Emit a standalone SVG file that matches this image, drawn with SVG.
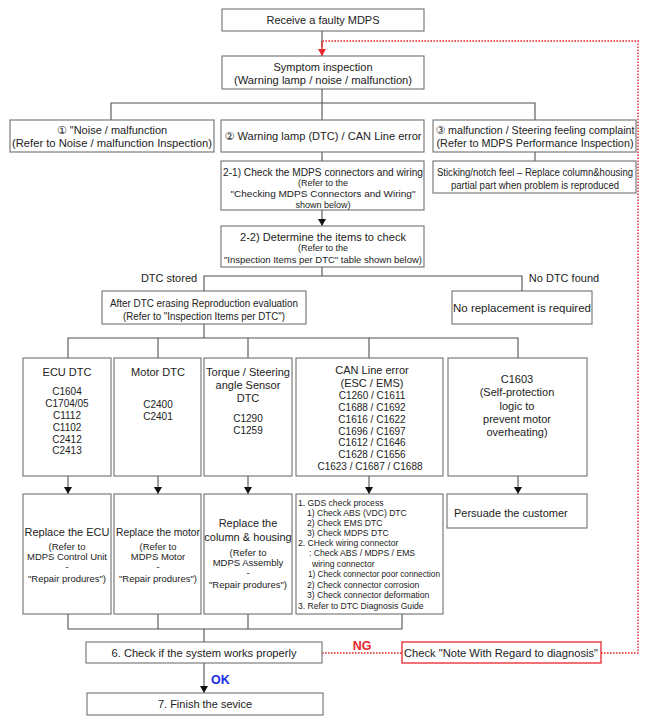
<svg xmlns="http://www.w3.org/2000/svg" width="647" height="726" viewBox="0 0 647 726">
<style>
.box{fill:#fff;stroke:#707070;stroke-width:1.1}
.rbox{fill:#fff;stroke:#e8262b;stroke-width:1.3}
.ln{stroke:#505050;stroke-width:1.1;fill:none}
.red{stroke:#e8262b;stroke-width:1.4;stroke-dasharray:1.6 1.4;fill:none}
text{font-family:"Liberation Sans","DejaVu Sans",Arial,sans-serif;fill:#222;font-size:11px}
.c{text-anchor:middle}
.s9{font-size:9px}
.s95{font-size:9.5px}
.s10{font-size:10px}
.g{font-size:8.6px}
</style>
<defs>
<marker id="ah" markerWidth="8" markerHeight="8" refX="7" refY="4" orient="auto" markerUnits="userSpaceOnUse">
<path d="M0,0 L7,4 L0,8 Z" fill="#111"/>
</marker>
<marker id="ahr" markerWidth="8" markerHeight="8" refX="7" refY="4" orient="auto" markerUnits="userSpaceOnUse">
<path d="M0,0 L7,4 L0,8 Z" fill="#e8262b"/>
</marker>
</defs>

<g id="connectors">
<line class="ln" x1="322" y1="31" x2="322" y2="47"/>
<line class="ln" x1="322" y1="89" x2="322" y2="103"/>
<polyline class="ln" points="111,120 111,103 535,103 535,120"/>
<line class="ln" x1="322" y1="103" x2="322" y2="120"/>
<line class="ln" x1="322" y1="152" x2="322" y2="161"/>
<line class="ln" x1="535" y1="152" x2="535" y2="161"/>
<line class="ln" x1="322" y1="210" x2="322" y2="226" marker-end="url(#ah)"/>
<line class="ln" x1="322" y1="267" x2="322" y2="276"/>
<polyline class="ln" points="204,291 204,276 522,276 522,291"/>
<line class="ln" x1="204" y1="324" x2="204" y2="338"/>
<polyline class="ln" points="68,358 68,338 518,338 518,358"/>
<line class="ln" x1="158" y1="338" x2="158" y2="358"/>
<line class="ln" x1="248" y1="338" x2="248" y2="358"/>
<line class="ln" x1="369" y1="338" x2="369" y2="358"/>
<line class="ln" x1="68" y1="476" x2="68" y2="494" marker-end="url(#ah)"/>
<line class="ln" x1="158" y1="476" x2="158" y2="494" marker-end="url(#ah)"/>
<line class="ln" x1="248" y1="476" x2="248" y2="494" marker-end="url(#ah)"/>
<line class="ln" x1="369" y1="476" x2="369" y2="494" marker-end="url(#ah)"/>
<line class="ln" x1="518" y1="476" x2="518" y2="494" marker-end="url(#ah)"/>
<polyline class="ln" points="68,614 68,629 402,629 402,614"/>
<line class="ln" x1="158" y1="614" x2="158" y2="629"/>
<line class="ln" x1="248" y1="614" x2="248" y2="629"/>
<line class="ln" x1="204" y1="629" x2="204" y2="642"/>
<line class="ln" x1="204" y1="663" x2="204" y2="693" marker-end="url(#ah)"/>
<line class="red" x1="322" y1="653" x2="402" y2="653"/>
<polyline class="red" points="601,653 638,653 638,41 323,41"/>
<line class="red" x1="322" y1="41" x2="322" y2="56" marker-end="url(#ahr)" style="stroke-dasharray:none"/>
</g>

<g id="n-receive"><rect class="box" x="222" y="9" width="202" height="22"/><text class="c" x="323" y="24">Receive a faulty MDPS</text></g>
<g id="n-symptom"><rect class="box" x="222" y="56" width="202" height="33"/><text class="c" x="323" y="71">Symptom inspection</text><text class="c" x="323" y="84" textLength="178" lengthAdjust="spacingAndGlyphs">(Warning lamp / noise / malfunction)</text></g>

<g id="n-noise"><rect class="box" x="10" y="120" width="204" height="32"/><text class="c" x="112" y="134">① "Noise / malfunction</text><text class="c" x="112" y="147" textLength="200" lengthAdjust="spacingAndGlyphs">(Refer to Noise / malfunction Inspection)</text></g>
<g id="n-warning"><rect class="box" x="221" y="120" width="203" height="32"/><text class="c" x="323" y="140" textLength="197" lengthAdjust="spacingAndGlyphs">② Warning lamp (DTC) / CAN Line error</text></g>
<g id="n-steer"><rect class="box" x="433" y="120" width="203" height="32"/><text class="c" x="535" y="134" textLength="199" lengthAdjust="spacingAndGlyphs">③ malfunction / Steering feeling complaint</text><text class="c" x="535" y="147" textLength="197" lengthAdjust="spacingAndGlyphs">(Refer to MDPS Performance Inspection)</text></g>

<g id="n-21"><rect class="box" x="221" y="161" width="203" height="49"/><text class="c" x="323" y="176" textLength="200" lengthAdjust="spacingAndGlyphs">2-1) Check the MDPS connectors and wiring</text><text class="c s9" x="323" y="186">(Refer to the</text><text class="c s9" x="323" y="197" textLength="185" lengthAdjust="spacingAndGlyphs">"Checking  MDPS Connectors and Wiring"</text><text class="c s9" x="323" y="208">shown below)</text></g>
<g id="n-sticking"><rect class="box" x="433" y="161" width="203" height="32"/><text class="c s10" x="535" y="176" textLength="196" lengthAdjust="spacingAndGlyphs">Sticking/notch feel – Replace column&amp;housing</text><text class="c s10" x="535" y="189" textLength="168" lengthAdjust="spacingAndGlyphs">partial part when problem is reproduced</text></g>

<g id="n-22"><rect class="box" x="221" y="226" width="203" height="41"/><text class="c" x="323" y="241" textLength="166" lengthAdjust="spacingAndGlyphs">2-2) Determine the items to check</text><text class="c s9" x="323" y="251">(Refer to the</text><text class="c s9" x="323" y="263" textLength="198" lengthAdjust="spacingAndGlyphs">"Inspection Items per DTC" table shown below)</text></g>

<text id="t-dtcstored" class="c" x="169" y="282">DTC stored</text>
<text id="t-nodtc" class="c" x="564" y="282">No DTC found</text>

<g id="n-after"><rect class="box" x="102" y="291" width="204" height="33"/><text class="c s10" x="204" y="307" textLength="188" lengthAdjust="spacingAndGlyphs">After DTC erasing Reproduction evaluation</text><text class="c s10" x="204" y="320" textLength="162" lengthAdjust="spacingAndGlyphs">(Refer to "Inspection Items per DTC")</text></g>
<g id="n-norepl"><rect class="box" x="452" y="291" width="140" height="33"/><text class="c" x="522" y="312" textLength="138" lengthAdjust="spacingAndGlyphs">No replacement is required</text></g>

<g id="n-ecudtc"><rect class="box" x="23" y="358" width="88" height="118"/><text class="c" x="67" y="376">ECU DTC</text>
<text class="c s10" x="67" y="395">C1604</text><text class="c s10" x="67" y="407">C1704/05</text><text class="c s10" x="67" y="419">C1112</text><text class="c s10" x="67" y="431">C1102</text><text class="c s10" x="67" y="443">C2412</text><text class="c s10" x="67" y="454">C2413</text></g>
<g id="n-motordtc"><rect class="box" x="114" y="358" width="87" height="118"/><text class="c" x="158" y="376">Motor DTC</text><text class="c s10" x="158" y="408">C2400</text><text class="c s10" x="158" y="420">C2401</text></g>
<g id="n-torquedtc"><rect class="box" x="204" y="358" width="88" height="118"/><text class="c" x="248" y="376">Torque / Steering</text><text class="c" x="248" y="389">angle Sensor</text><text class="c" x="248" y="402">DTC</text><text class="c s10" x="248" y="422">C1290</text><text class="c s10" x="248" y="434">C1259</text></g>
<g id="n-candtc"><rect class="box" x="296" y="358" width="147" height="118"/><text class="c" x="372" y="374">CAN Line error</text><text class="c" x="372" y="387">(ESC / EMS)</text>
<text class="c s10" x="372" y="399">C1260 / C1611</text><text class="c s10" x="372" y="411">C1688 / C1692</text><text class="c s10" x="372" y="423">C1616 / C1622</text><text class="c s10" x="372" y="435">C1696 / C1697</text><text class="c s10" x="372" y="446">C1612 / C1646</text><text class="c s10" x="372" y="458">C1628 / C1656</text><text class="c s10" x="370" y="470">C1623 / C1687 / C1688</text></g>
<g id="n-c1603"><rect class="box" x="448" y="358" width="139" height="118"/><text class="c" x="517" y="383">C1603</text><text class="c" x="517" y="396">(Self-protection</text><text class="c" x="517" y="410">logic to</text><text class="c" x="517" y="423">prevent motor</text><text class="c" x="517" y="436">overheating)</text></g>

<g id="n-replecu"><rect class="box" x="23" y="494" width="88" height="120"/><text class="c" x="67" y="536">Replace the ECU</text><text class="c s95" x="67" y="550">(Refer to</text><text class="c s95" x="67" y="560" textLength="80" lengthAdjust="spacingAndGlyphs">MDPS Control Unit</text><text class="c s95" x="67" y="570">-</text><text class="c s95" x="67" y="582">"Repair produres")</text></g>
<g id="n-replmotor"><rect class="box" x="114" y="494" width="87" height="120"/><text class="c" x="158" y="536" textLength="84" lengthAdjust="spacingAndGlyphs">Replace the motor</text><text class="c s95" x="158" y="550">(Refer to</text><text class="c s95" x="158" y="560">MDPS Motor</text><text class="c s95" x="158" y="570">-</text><text class="c s95" x="158" y="582">"Repair produres")</text></g>
<g id="n-replcol"><rect class="box" x="204" y="494" width="88" height="120"/><text class="c" x="248" y="527">Replace the</text><text class="c" x="248" y="541">column &amp; housing</text><text class="c s95" x="248" y="556">(Refer to</text><text class="c s95" x="248" y="566">MDPS Assembly</text><text class="c s95" x="248" y="576">-</text><text class="c s95" x="248" y="588">"Repair produres")</text></g>
<g id="n-gds"><rect class="box" x="296" y="494" width="147" height="120"/>
<text class="g" x="298" y="506">1. GDS check process</text>
<text class="g" x="307" y="516">1) Check ABS (VDC) DTC</text>
<text class="g" x="307" y="526">2) Check EMS DTC</text>
<text class="g" x="307" y="536">3) Check MDPS DTC</text>
<text class="g" x="298" y="546">2. CHeck wiring connector</text>
<text class="g" x="309" y="556">: Check ABS / MDPS / EMS</text>
<text class="g" x="312" y="567">wiring connector</text>
<text class="g" x="308" y="577" textLength="132" lengthAdjust="spacingAndGlyphs">1) Check connector poor connection</text>
<text class="g" x="307" y="588">2) Check connector corrosion</text>
<text class="g" x="307" y="598">3) Check connector deformation</text>
<text class="g" x="298" y="609">3. Refer to DTC Diagnosis Guide</text></g>
<g id="n-persuade"><rect class="box" x="447" y="494" width="140" height="34"/><text x="454" y="517">Persuade the customer</text></g>

<g id="n-check6"><rect class="box" x="86" y="642" width="236" height="21"/><text class="c" x="204" y="657" textLength="185" lengthAdjust="spacingAndGlyphs">6. Check if the system works properly</text></g>
<g id="n-note"><rect class="rbox" x="402" y="642" width="199" height="21"/><text class="c" x="501" y="657" textLength="194" lengthAdjust="spacingAndGlyphs">Check "Note With Regard to diagnosis"</text></g>
<text id="t-ng" class="c" x="362" y="650" style="fill:#e8262b;font-weight:bold;font-size:12.5px">NG</text>
<text id="t-ok" x="211" y="684" style="fill:#1a2be8;font-weight:bold;font-size:12.5px">OK</text>
<g id="n-finish"><rect class="box" x="87" y="693" width="236" height="22"/><text class="c" x="205" y="708">7. Finish the sevice</text></g>
</svg>
